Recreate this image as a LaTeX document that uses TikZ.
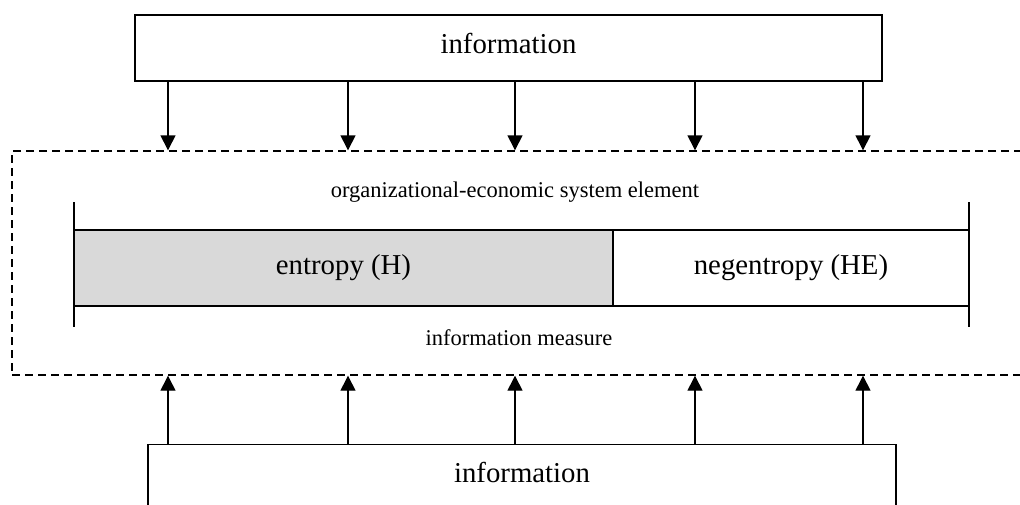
\documentclass[tikz,border=0pt]{standalone}
\usepackage{fontspec}
\setmainfont{Liberation Serif}
\usetikzlibrary{arrows.meta}
\definecolor{barfill}{RGB}{217,217,217}
\tikzset{
  box/.style={draw=black, line width=1.4pt, fill=white, inner sep=0pt},
  bigtext/.style={font=\fontsize{28.8}{34}\selectfont},
  smalltext/.style={font=\fontsize{22.5}{27}\selectfont, inner sep=0pt},
  arr/.style={line width=1.4pt, -{Triangle[width=15pt,length=15pt]}},
  sysbox/.style={draw=black, line width=1.4pt, dash pattern=on 8pt off 5pt, inner sep=0pt},
  endline/.style={line width=1.4pt}
}
\begin{document}
\begin{tikzpicture}[x=1pt,y=-1pt]
\useasboundingbox (0,0) rectangle (1020,504);
\fill[white] (0,0) rectangle (1020,504);
% dashed system box (right side beyond the picture)
\node[sysbox, minimum width=1030pt, minimum height=224pt] (system) at (527,263) {};
% top information box
\node[box, bigtext, minimum width=747pt, minimum height=66pt, text height=20pt, text depth=10pt] (infotop) at (508.5,48) {information};
% bottom information box (lower edge beyond the picture)
\node[box, bigtext, anchor=north, minimum width=748pt, minimum height=100pt, text height=20pt, text depth=44pt] (infobot) at (522,444) {information};
% bar
\node[box, bigtext, fill=barfill, minimum width=539pt, minimum height=76pt] (entropy) at (343.5,268) {entropy (H)};
\node[box, bigtext, minimum width=356pt, minimum height=76pt] (negentropy) at (791,268) {negentropy (HE)};
\coordinate (lt) at (74,202);
\coordinate (lb) at (74,327);
\coordinate (rt) at (969,202);
\coordinate (rb) at (969,327);
\draw[endline] (lt) -- (lb);
\draw[endline] (rt) -- (rb);
% labels
\node[smalltext] (elem) at (515,192) {organizational-economic system element};
\node[smalltext] (measure) at (519,338) {information measure};
% arrows
\foreach \x in {168,348,515,695,863}{
  \draw[arr] (\x,0 |- infotop.south) -- (\x,0 |- system.north);
  \draw[arr] (\x,0 |- infobot.north) -- (\x,0 |- system.south);
}
\end{tikzpicture}
\end{document}
